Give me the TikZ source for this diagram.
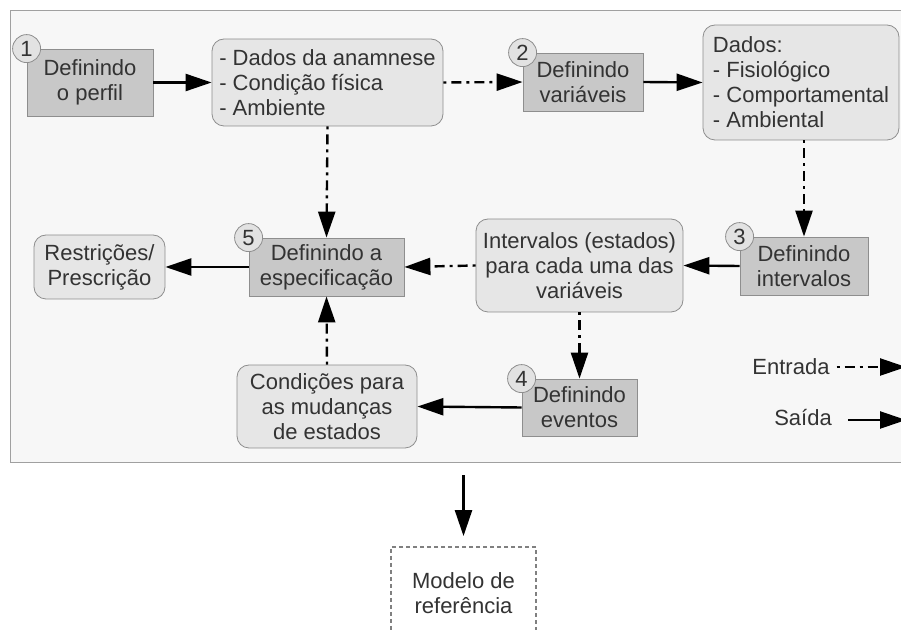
\documentclass[tikz,border=0pt]{standalone}
\usepackage{fontspec}
\setmainfont{Liberation Sans}
\usetikzlibrary{arrows.meta}
\definecolor{txtgray}{HTML}{333333}
\definecolor{framegray}{HTML}{A0A0A0}
\definecolor{bggray}{HTML}{F7F7F7}
\definecolor{procfill}{HTML}{C8C8C8}
\definecolor{procborder}{HTML}{8E8E8E}
\definecolor{infofill}{HTML}{E6E6E6}
\definecolor{badgefill}{HTML}{E2E2E2}
\newcommand{\fsz}{\fontsize{11}{12.5}\selectfont}
\begin{document}
\begin{tikzpicture}[x=0.5pt,y=-0.5pt,
    frame/.style={draw=framegray,fill=bggray,line width=0.7pt,anchor=north west},
    proc/.style={draw=procborder,fill=procfill,font=\fsz,text=txtgray,inner sep=2pt,align=center},
    info/.style={draw=procborder,fill=infofill,rounded corners=6pt,font=\fsz,text=txtgray,inner sep=2pt},
    badge/.style={circle,draw=procborder,fill=badgefill,minimum size=14pt,inner sep=0pt,font=\fsz,text=txtgray},
    legtext/.style={font=\fsz,text=txtgray},
    result/.style={draw=gray,dash pattern=on 2pt off 1.5pt,line width=0.9pt,fill=white,font=\fsz,text=txtgray,align=center},
    outarr/.style={-{Triangle[length=13pt,width=8.5pt]},line width=1.2pt},
    inarr/.style={outarr,dash pattern=on 1.5pt off 2.5pt on 5pt off 2.5pt},
  ]
  \useasboundingbox (0,0) rectangle (901,630);
  \node[frame,minimum width=460pt,minimum height=226pt] (frame) at (10,10) {};

  % steps
  \node[proc,minimum width=63pt,minimum height=33.5pt] (perfil) at (90,82.5) {Definindo\\o perfil};
  \node[proc,minimum width=60pt,minimum height=29pt] (var) at (583,82) {Definindo\\variáveis};
  \node[proc,minimum width=64pt,minimum height=29pt] (interv) at (804,266) {Definindo\\intervalos};
  \node[proc,minimum width=57.5pt,minimum height=28.5pt] (eventos) at (579.5,407.5) {Definindo\\eventos};
  \node[proc,minimum width=77.5pt,minimum height=29pt] (espec) at (326.5,267) {Definindo a\\especificação};
  \foreach \n/\k in {perfil/1,var/2,interv/3,eventos/4,espec/5}{
      \node[badge] (b\k) at (\n.north west) {\k};
    }

  % data boxes
  \node[info,align=left,minimum width=115.5pt,minimum height=43.5pt] (anamnese) at (327.5,82.5) {- Dados da anamnese\\- Condição física\\- Ambiente};
  \node[info,align=left,minimum width=98pt,minimum height=57.5pt] (dados) at (801,82.5) {Dados:\\- Fisiológico\\- Comportamental\\- Ambiental};
  \node[info,align=center,minimum width=103.5pt,minimum height=46.5pt] (intervalos) at (579.5,265.5) {Intervalos (estados)\\para cada uma das\\variáveis};
  \node[info,align=center,minimum width=65.5pt,minimum height=32pt] (restr) at (99.5,267) {Restrições/\\Prescrição};
  \node[info,align=center,minimum width=90pt,minimum height=41.5pt] (cond) at (327,406.5) {Condições para\\as mudanças\\de estados};

  \node[result,minimum width=72.5pt,minimum height=46.5pt] (modelo) at (463.5,593.5) {Modelo de\\referência};

  % connectors
  \draw[outarr] (perfil.east) -- (anamnese.west);
  \draw[inarr] (anamnese.east) -- (var.west);
  \draw[outarr] (var.east) -- (dados.west);
  \draw[inarr] (interv.north |- dados.south) -- (interv.north);
  \draw[outarr] (interv.west) -- (intervalos.east);
  \draw[inarr] (intervalos.west) -- (espec.east);
  \draw[outarr] (espec.west) -- (restr.east);
  \draw[inarr] (anamnese.south) -- (espec.north);
  \draw[inarr] (intervalos.south) -- (eventos.north);
  \draw[outarr] (eventos.west) -- (cond.east);
  \draw[inarr] (cond.north) -- (espec.south);
  \draw[outarr,shorten <=6pt,shorten >=5pt] (frame.south -| modelo.north) -- (modelo.north);

  % legend
  \node[legtext] (entrada) at (791,367) {Entrada};
  \node[legtext] (saida) at (803,418) {Saída};
  \coordinate (entradaEnd) at (906,367);
  \coordinate (saidaEnd) at (906,420);
  \draw[inarr] (entrada.east) -- (entradaEnd);
  \draw[outarr,shorten <=4.5pt] (saida.east |- saidaEnd) -- (saidaEnd);
\end{tikzpicture}
\end{document}
